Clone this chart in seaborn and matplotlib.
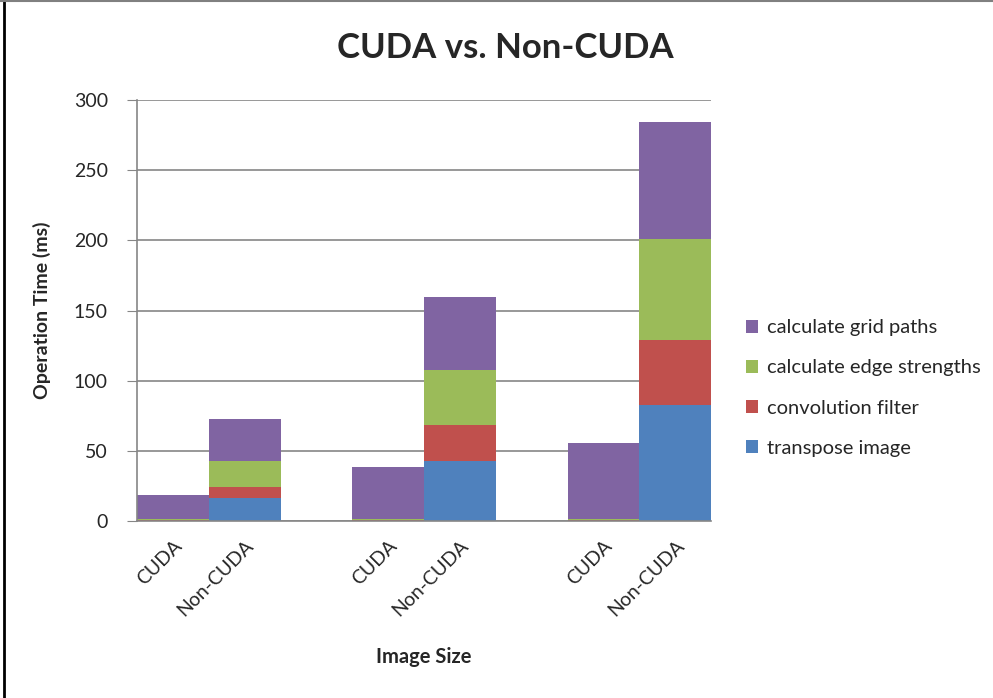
import matplotlib
matplotlib.use("Agg")
import matplotlib.pyplot as plt
import seaborn as sns
import pandas as pd
import numpy as np
from matplotlib.patches import Patch
from matplotlib.lines import Line2D

# ---- data ----
slots = ["CUDA", "Non-CUDA", "gap1", "CUDA ", "Non-CUDA ", "gap2", "CUDA  ", "Non-CUDA  "]
bar_slots = ["CUDA", "Non-CUDA", "CUDA ", "Non-CUDA ", "CUDA  ", "Non-CUDA  "]
tick_labels = ["CUDA", "Non-CUDA", "", "CUDA", "Non-CUDA", "", "CUDA", "Non-CUDA"]
series = ["transpose image", "convolution filter", "calculate edge strengths", "calculate grid paths"]
transpose_image = [0.3, 16.6, 0.3, 43.0, 0.3, 83.0]
convolution_filter = [0.3, 7.6, 0.3, 25.6, 0.3, 46.0]
edge_strengths = [0.6, 18.6, 0.8, 39.2, 1.0, 72.0]
grid_paths = [17.0, 30.0, 37.0, 52.0, 54.0, 83.0]
colors = ["#4F81BD", "#C0504D", "#9BBB59", "#8064A2"]

sns.set_style("white")
plt.rcParams["font.family"] = ["Lato", "DejaVu Sans"]

df = pd.DataFrame({
    "slot": bar_slots,
    "transpose image": transpose_image,
    "convolution filter": convolution_filter,
    "calculate edge strengths": edge_strengths,
    "calculate grid paths": grid_paths,
})
cum = df[series].cumsum(axis=1)

fig = plt.figure(figsize=(9.93, 6.98), dpi=100)
ax = fig.add_axes([137/993, 1-521/698, (711-137)/993, 421/698])

for i in range(len(series) - 1, -1, -1):
    d = pd.DataFrame({"slot": df["slot"], "val": cum[series[i]]})
    sns.barplot(data=d, x="slot", y="val", order=slots, color=colors[i],
                width=1.0, linewidth=0, saturation=1, ax=ax, errorbar=None)

ax.set_xlim(-0.5, 7.5)
ax.set_ylim(0, 300)
ax.set_yticks(np.arange(0, 301, 50))
ax.yaxis.grid(True, color="#868686", linewidth=1.2)
ax.set_axisbelow(True)
for s in ["top", "right"]:
    ax.spines[s].set_visible(False)
ax.spines["left"].set_color("#868686")
ax.spines["bottom"].set_color("#868686")
ax.spines["left"].set_linewidth(1.2)
ax.spines["bottom"].set_linewidth(1.2)
ax.tick_params(axis="y", left=True, length=7, color="#868686", labelsize=14, pad=14)
ax.tick_params(axis="x", bottom=False, labelsize=14, pad=8)
ax.set_xticks(range(len(slots)))
ax.set_xticklabels(tick_labels, rotation=45, ha="right", rotation_mode="anchor")

ax.set_ylabel("Operation Time (ms)", fontsize=14, fontweight="bold", labelpad=16)
ax.set_xlabel("Image Size", fontsize=14.5, fontweight="bold", labelpad=20)
fig.text(505/993, 1-48/698, "CUDA vs. Non-CUDA", ha="center", va="center",
         fontsize=25, fontweight="bold")

handles = [Patch(facecolor=colors[i], edgecolor="none", label=series[i]) for i in range(3, -1, -1)]
fig.legend(handles=handles, loc="center left", bbox_to_anchor=(728/993, 1-388/698),
           frameon=False, fontsize=14.5, handlelength=0.6, handleheight=0.6,
           handletextpad=0.45, labelspacing=1.15)

# chart border
fig.add_artist(Line2D([4/993, 4/993], [0, 1], transform=fig.transFigure, color="black", linewidth=2))
fig.add_artist(Line2D([0, 1], [1-1/698, 1-1/698], transform=fig.transFigure, color="#808080", linewidth=1.5))

fig.savefig("out.png", dpi=100)
